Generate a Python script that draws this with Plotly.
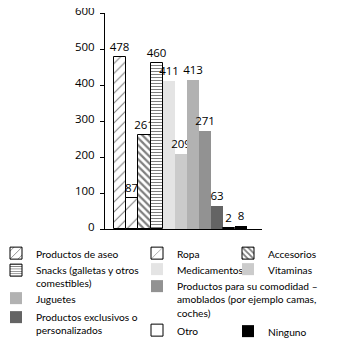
import plotly.graph_objects as go

categories = ["Productos de aseo", "Ropa", "Accesorios",
              "Snacks (galletas y otros comestibles)", "Medicamentos", "Vitaminas",
              "Juguetes", "Productos para su comodidad – amoblados (por ejemplo camas, coches)",
              "Productos exclusivos o personalizados", "Otro", "Ninguno"]
values = [478, 87, 261, 460, 411, 209, 413, 271, 63, 2, 8]
legend_labels = ["Productos de aseo", "Ropa", "Accesorios",
                 "Snacks (galletas y otros<br>comestibles)", "Medicamentos", "Vitaminas",
                 "Juguetes", "Productos para su comodidad –<br>amoblados (por ejemplo camas,<br>coches)",
                 "Productos exclusivos o<br>personalizados", "Otro", "Ninguno"]
y_ticks = [0, 100, 200, 300, 400, 500, 600]

# styles
fills = ["white", "white", "white", "white", "#e4e4e4", "#cbcbcb",
         "#b2b2b2", "#929292", "#646464", "white", "black"]
patterns = ["/", "/", "\\", "-", "", "", "", "", "", "", ""]
pat_size = [7, 14, 5, 3, 8, 8, 8, 8, 8, 8, 8]
pat_sol = [0.15, 0.08, 0.45, 0.35, 0.3, 0.3, 0.3, 0.3, 0.3, 0.3, 0.3]
outline = [1, 1, 1, 1, 0, 0, 0, 0, 0, 1, 0]

# page offset (browser body margin) and page-pixel layout targets
OFF = 8
PAGE_W, PAGE_H = 345, 352
W, H = PAGE_W - OFF, PAGE_H - OFF
plot_left, plot_right, plot_top, plot_bottom = 105 - OFF, 262 - OFF, 13 - OFF, 229 - OFF

# legend placement (page px): text-left x, first-line centre y
leg_pos = [(31, 253), (172, 253), (263, 253),
           (31, 270), (172, 269), (263, 269),
           (31, 298), (172, 286),
           (31, 317), (172, 330), (263, 331)]

LEG_FONT = "Lato"
NUM_FONT = "Open Sans"

fig = go.Figure()
for i, cat in enumerate(categories):
    lg = "legend" if i == 0 else f"legend{i+1}"
    fig.add_trace(go.Bar(
        x=[cat], y=[values[i]], name=legend_labels[i],
        text=[str(values[i])], textposition="outside", constraintext="none",
        cliponaxis=False,
        textfont=dict(family=NUM_FONT, size=11.5, color="black"),
        marker=dict(color=fills[i],
                    line=dict(color="black", width=outline[i]),
                    pattern=dict(shape=patterns[i], fgcolor="black", bgcolor=fills[i],
                                 size=pat_size[i], solidity=pat_sol[i], fillmode="overlay")),
        width=1, legend=lg, showlegend=True, hoverinfo="skip"))

pw = plot_right - plot_left
ph = plot_bottom - plot_top
layout_legends = {}
for i, (tx, cy) in enumerate(leg_pos):
    lg = "legend" if i == 0 else f"legend{i+1}"
    left = (tx - OFF) + 5 - 40
    top = (cy - OFF) - 13
    layout_legends[lg] = dict(
        x=(left - plot_left) / pw, y=(plot_bottom - top) / ph,
        xref="paper", yref="paper",
        xanchor="left", yanchor="top", bgcolor="rgba(0,0,0,0)",
        font=dict(family=LEG_FONT, size=10.2, color="black"), valign="top",
        borderwidth=0)

fig.update_layout(
    width=W, height=H,
    margin=dict(l=plot_left, r=W - plot_right, t=plot_top, b=H - plot_bottom, pad=0,
                autoexpand=False),
    paper_bgcolor="white", plot_bgcolor="white",
    barmode="overlay", bargap=0,
    font=dict(family=LEG_FONT, size=11, color="black"),
    xaxis=dict(type="category", categoryorder="array", categoryarray=categories,
               range=[-1.27, 11.74], showticklabels=False, ticks="",
               showline=True, linecolor="black", linewidth=1, showgrid=False, zeroline=False),
    yaxis=dict(range=[0, 600], tickvals=y_ticks, ticks="outside", ticklen=4,
               tickcolor="black", showline=True, linecolor="black", linewidth=1,
               showgrid=False, zeroline=False, ticklabelstandoff=3,
               ticklabeloverflow="allow", ticklabelshift=-2,
               tickfont=dict(family=NUM_FONT, size=11.5, color="black")),
    **layout_legends,
)

fig.write_html("out.html")
